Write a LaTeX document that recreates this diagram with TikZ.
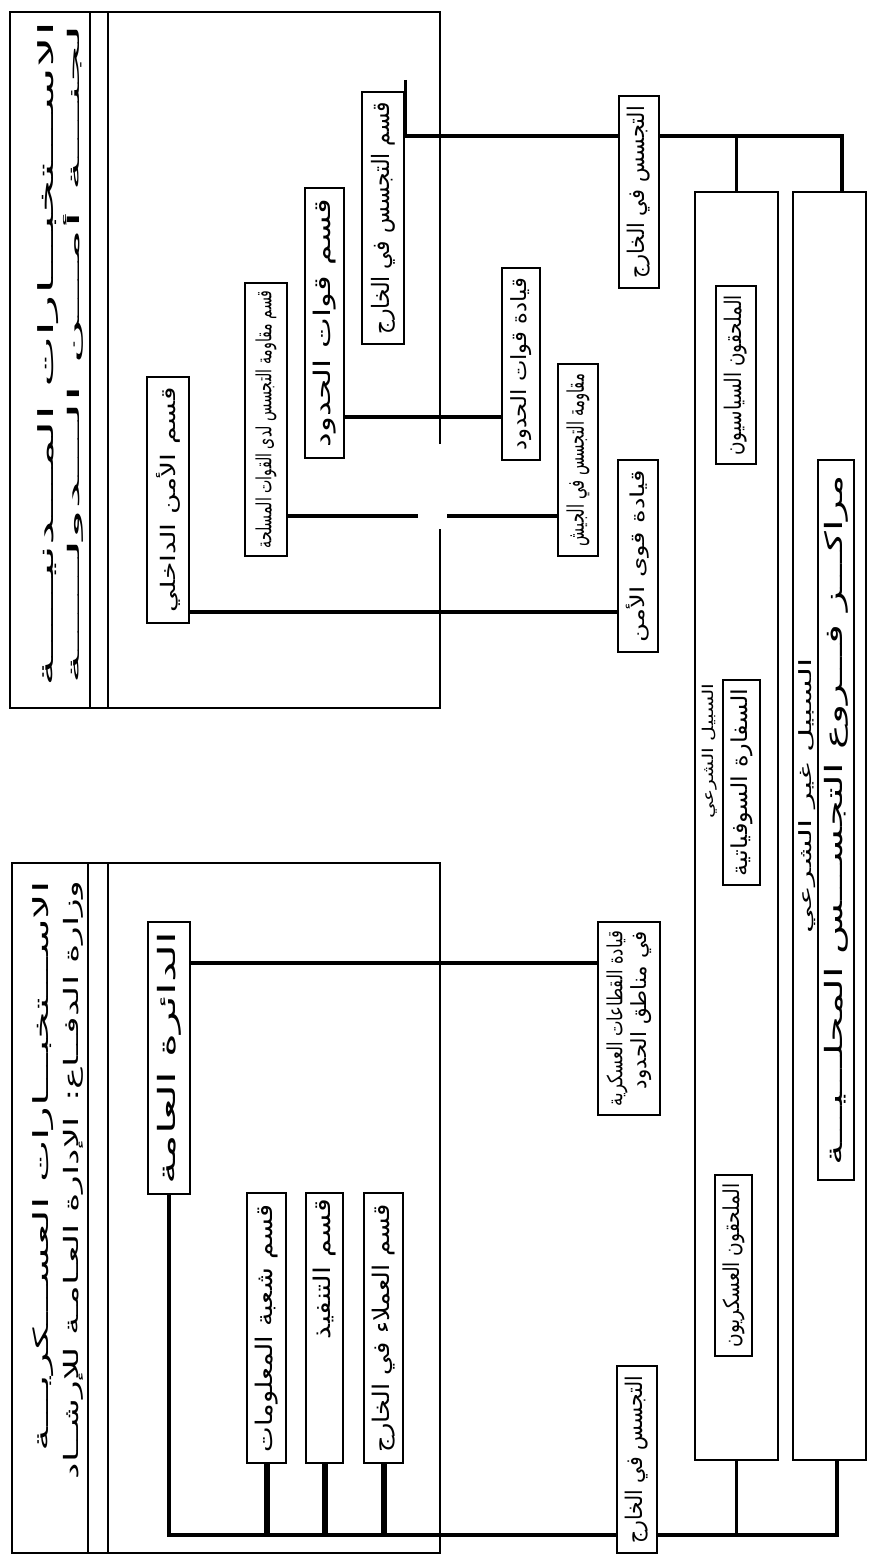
\documentclass[tikz,border=0pt]{standalone}
\usepackage{fontspec}
\usepackage{graphicx}
\newfontfamily\arabicfont[Script=Arabic]{DejaVu Sans}
\TeXXeTstate=1
\newcommand\artx[3]{\resizebox*{#1pt}{#2pt}{\arabicfont #3}}
\begin{document}
\begin{tikzpicture}[x=1pt,y=-1pt,
  ubox/.style={draw, line width=2.8pt, rotate=90, inner sep=0pt, fill=white},
  lbox/.style={draw, line width=2.4pt, inner sep=0pt},
  lbl/.style={rotate=90, inner sep=0pt},
  conn/.style={line width=3.4pt},
  stem/.style={line width=6pt},
  panel/.style={line width=2.2pt}]
\useasboundingbox (0,0) rectangle (868,1560);

% ---------- top panel (civil intelligence) ----------
\draw[panel] (440,444) -- (440,12) -- (10,12) -- (10,708) -- (440,708) -- (440,529);
\draw[panel] (90,12) -- (90,708);
\draw[panel] (108,12) -- (108,708);
\node[lbl] (t1a) at (48,354) {\artx{665}{21}{\beginR الاســـتخبـــارات المـــدنيـــــة\endR}};
\node[lbl] (t1b) at (73,354) {\artx{660}{20}{\beginR لجنـــة أمـــن الـــدولـــــة\endR}};

\node[ubox, minimum width=246pt, minimum height=42pt] (A) at (168,500) {\artx{225}{24}{\beginR قسم الأمن الداخلي\endR}};
\node[ubox, minimum width=273pt, minimum height=42pt] (B) at (266,419.5) {\artx{258}{21}{\beginR قسم مقاومة التجسس لدى القوات المسلحة\endR}};
\node[ubox, minimum width=270pt, minimum height=39pt] (C) at (324.5,323) {\artx{248}{23}{\beginR قسم قوات الحدود\endR}};
\node[ubox, minimum width=252pt, minimum height=42pt] (D) at (383,218) {\artx{232}{24}{\beginR قسم التجسس في الخارج\endR}};

% ---------- centre column, top ----------
\node[ubox, minimum width=192pt, minimum height=40pt] (E) at (639,192) {\artx{172}{23}{\beginR التجسس في الخارج\endR}};
\node[ubox, minimum width=192pt, minimum height=38pt] (F) at (521,364) {\artx{172}{21}{\beginR قيادة قوات الحدود\endR}};
\node[ubox, minimum width=192pt, minimum height=40pt] (G) at (578,460) {\artx{172}{23}{\beginR مقاومة التجسس في الجيش\endR}};
\node[ubox, minimum width=192pt, minimum height=40pt] (H) at (638,556) {\artx{172}{23}{\beginR قيادة قوى الأمن\endR}};

% ---------- long boxes ----------
\node[lbox, minimum width=83pt, minimum height=1268pt] (L1) at (736.5,826) {};
\node[lbox, minimum width=73pt, minimum height=1268pt] (L2) at (829.5,826) {};

\node[ubox, minimum width=178pt, minimum height=40pt] (PS) at (736,375) {\artx{160}{23}{\beginR الملحقون السياسيون\endR}};
\node[lbl] (LB1) at (710,751) {\artx{135}{15}{\beginR السبيل الشرعي\endR}};
\node[ubox, minimum width=205pt, minimum height=37pt] (SE) at (741.5,782.5) {\artx{188}{22}{\beginR السفارة السوفياتية\endR}};
\node[ubox, minimum width=181pt, minimum height=37pt] (MA) at (733.5,1265.5) {\artx{164}{22}{\beginR الملحقون العسكريون\endR}};

\node[lbl] (LB2) at (807,796) {\artx{275}{17}{\beginR السبيل غير الشرعي\endR}};
\node[ubox, minimum width=720pt, minimum height=36pt] (CE) at (836,820) {\artx{690}{24}{\beginR مراكـــز فـــروع التجســـس المحلـــيـــة\endR}};

% ---------- bottom panel (military intelligence) ----------
\draw[panel] (12,863) rectangle (440,1553);
\draw[panel] (88,863) -- (88,1553);
\draw[panel] (108,863) -- (108,1553);
\node[lbl] (t2a) at (43,1166) {\artx{570}{21}{\beginR الاســـتخبـــارات العســـكريـــة\endR}};
\node[lbl] (t2b) at (73,1180) {\artx{598}{20}{\beginR وزارة الدفــاع: الإدارة العـامـة للإرشــاد\endR}};

\node[ubox, minimum width=272pt, minimum height=42pt] (MD) at (169,1058) {\artx{252}{24}{\beginR الدائرة العامة\endR}};
\node[ubox, minimum width=270pt, minimum height=39pt] (S1) at (266.5,1328) {\artx{248}{23}{\beginR قسم شعبة المعلومات\endR}};
\node[ubox, minimum width=270pt, minimum height=37pt] (S2) at (324.5,1328) {\makebox[258pt][r]{\artx{140}{23}{\beginR قسم التنفيذ\endR}}};
\node[ubox, minimum width=270pt, minimum height=39pt] (S3) at (383.5,1328) {\artx{248}{23}{\beginR قسم العملاء في الخارج\endR}};

\node[ubox, minimum width=193pt, minimum height=62pt, align=right] (Q) at (629,1018.5)
  {\artx{175}{21}{\beginR قيادة القطاعات العسكرية\endR}\\[2pt]\artx{158}{21}{\beginR في مناطق الحدود\endR}};
\node[ubox, minimum width=187pt, minimum height=40pt] (E2) at (637,1459.5) {\artx{168}{23}{\beginR التجسس في الخارج\endR}};

% ---------- connectors, top ----------
\draw[conn] (D.south |- 0,80) -- (D.south |- 0,136);
\draw[conn] (D.south |- 0,136) -- (E.north |- 0,136);
\draw[conn] (E.south |- 0,136) -| (L2.north -| 842,0);
\draw[conn] (L1.north |- 0,136) -- (L1.north);
\draw[conn] (C.south |- 0,417) -- (F.north |- 0,417);
\coordinate (gl) at (418,516);
\coordinate (gr) at (447,516);
\draw[conn] (B.south |- gl) -- (gl);
\draw[conn] (gr) -- (G.north |- gr);
\draw[conn] (A.south |- 0,612) -- (H.north |- 0,612);

% ---------- connectors, bottom ----------
\draw[conn] (MD.south |- 0,963) -- (Q.north |- 0,963);
\draw[conn] (MD.west) |- (E2.north |- 0,1535);
\draw[conn] (E2.south |- 0,1535) -| (L2.south -| 837,0);
\draw[conn] (L1.south |- 0,1535) -- (L1.south);
\draw[stem] (S1.west) -- (S1.west |- 0,1535);
\draw[stem] (S2.west) -- (S2.west |- 0,1535);
\draw[stem] (S3.west) -- (S3.west |- 0,1535);
\end{tikzpicture}
\end{document}
